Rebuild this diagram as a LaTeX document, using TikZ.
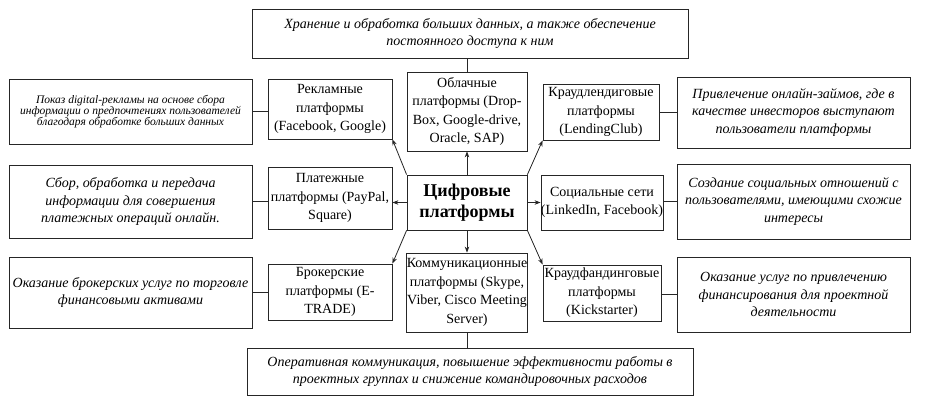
\documentclass[tikz,border=0pt]{standalone}
\usepackage{fontspec}
\setmainfont{Liberation Serif}
\usetikzlibrary{arrows.meta}
\begin{document}
\begin{tikzpicture}[x=1pt,y=-1pt,
  box/.style={draw=black!85, line width=0.8pt, inner sep=0pt, align=center, anchor=center},
  plat/.style={box, font=\fontsize{14}{18.5}\selectfont},
  desc/.style={box, font=\fontsize{14}{17.5}\selectfont\itshape},
  link/.style={draw=black!85, line width=0.8pt},
  arr/.style={link, -{Stealth[length=6pt,width=4.5pt]}}]
\useasboundingbox[fill=white] (0,0) rectangle (945,401);
% top and bottom
\node[desc, minimum width=436pt, minimum height=49pt] (top) at (470,33.5)
  {Хранение и обработка больших данных, а также обеспечение\\постоянного доступа к ним};
\node[desc, minimum width=446pt, minimum height=47pt] (bot) at (470,371.5)
  {Оперативная коммуникация, повышение эффективности работы в\\проектных группах и снижение командировочных расходов};
% middle column
\node[plat, minimum width=120pt, minimum height=79pt] (cloud) at (467,111.5)
  {Облачные\\платформы (Drop-\\Box, Google-drive,\\Oracle, SAP)};
\node[box, font=\fontsize{18}{21}\selectfont\bfseries, minimum width=120pt, minimum height=55pt] (center) at (467,202.5)
  {Цифровые\\платформы};
\node[plat, minimum width=120pt, minimum height=79pt] (comm) at (467,292.5)
  {Коммуникационные\\платформы (Skype,\\Viber, Cisco Meeting\\Server)};
% left platforms
\node[plat, minimum width=124pt, minimum height=60pt] (rek) at (330,109)
  {Рекламные\\платформы\\(Facebook, Google)};
\node[plat, minimum width=124pt, minimum height=62pt] (pay) at (330,198)
  {Платежные\\платформы (PayPal,\\Square)};
\node[plat, minimum width=124pt, minimum height=56pt] (brok) at (330,292)
  {Брокерские\\платформы (E-\\TRADE)};
% left descriptions
\node[box, font=\fontsize{11.5}{11}\selectfont\itshape, minimum width=243pt, minimum height=65pt] (pokaz) at (130.5,111.5)
  {Показ digital-рекламы на основе сбора\\информации о предпочтениях пользователей\\благодаря обработке больших данных};
\node[desc, minimum width=243pt, minimum height=73pt] (sbor) at (130.5,201.5)
  {Сбор, обработка и передача\\информации для совершения\\платежных операций онлайн.};
\node[desc, minimum width=243pt, minimum height=71pt] (okb) at (130.5,292.5)
  {Оказание брокерских услуг по торговле\\финансовыми активами};
% right platforms
\node[plat, minimum width=116pt, minimum height=56pt] (krl) at (601,112)
  {Краудлендиговые\\платформы\\(LendingClub)};
\node[plat, minimum width=120pt, minimum height=55pt] (soc) at (602,202.5)
  {Социальные сети\\(LinkedIn, Facebook)};
\node[plat, minimum width=118pt, minimum height=56pt] (krf) at (602,293)
  {Краудфандинговые\\платформы\\(Kickstarter)};
% right descriptions
\node[desc, minimum width=233pt, minimum height=71pt] (privl) at (793.5,112.5)
  {Привлечение онлайн-займов, где в\\качестве инвесторов выступают\\пользователи платформы};
\node[desc, minimum width=233pt, minimum height=75pt] (sozd) at (793.5,201.5)
  {Создание социальных отношений с\\пользователями, имеющими схожие\\интересы};
\node[desc, minimum width=233pt, minimum height=75pt] (oku) at (793.5,294.5)
  {Оказание услуг по привлечению\\финансирования для проектной\\деятельности};
% plain links
\draw[link] (cloud.north) -- (cloud.north |- top.south);
\draw[link] (comm.south) -- (comm.south |- bot.north);
\draw[link] (pokaz.east) -- (pokaz.east -| rek.west);
\draw[link] (sbor.east) -- (sbor.east -| pay.west);
\draw[link] (okb.east) -- (okb.east -| brok.west);
\draw[link] (privl.west) -- (privl.west -| krl.east);
\draw[link] (sozd.west) -- (sozd.west -| soc.east);
\draw[link] (oku.west) -- (oku.west -| krf.east);
% arrows from center
\draw[arr] (center.north) -- (cloud.south);
\draw[arr] (center.south) -- (comm.north);
\draw[arr] (center.west) -- (center.west -| pay.east);
\draw[arr] (center.east) -- (center.east -| soc.west);
\draw[arr] (center.north west) -- (rek.south east);
\draw[arr] (center.north east) -- (krl.south west);
\draw[arr] (center.south west) -- (brok.north east);
\draw[arr] (center.south east) -- (krf.north west);
\end{tikzpicture}
\end{document}
